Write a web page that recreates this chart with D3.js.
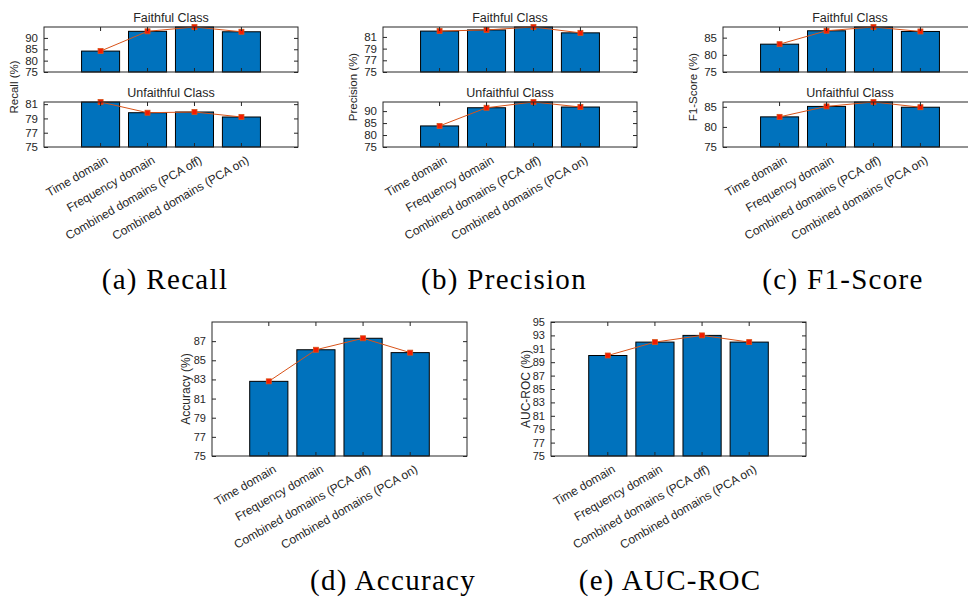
<!DOCTYPE html>
<html>
<head>
<meta charset="utf-8">
<script src="https://cdn.jsdelivr.net/npm/d3@7"></script>
<style>
  html, body { margin: 0; padding: 0; background: #fff; }
  svg { display: block; }
  .tick text { font-family: "Liberation Sans", Arial, sans-serif; fill: #262626; }
  .tick line { stroke: #262626; }
</style>
</head>
<body>
<svg id="fig" width="968" height="599"></svg>
<script>
// Feature-set comparison: per-class recall / precision / F1, overall accuracy and AUC-ROC.
const categories = ["Time domain", "Frequency domain", "Combined domains (PCA off)", "Combined domains (PCA on)"];

const recallFaithful = [84.2, 92.9, 94.8, 92.7];
const recallUnfaithful = [81.3, 79.8, 79.9, 79.2];
const precisionFaithful = [82.0, 82.2, 82.7, 81.7];
const precisionUnfaithful = [83.8, 91.4, 93.8, 91.7];
const f1Faithful = [83.1, 87.0, 88.1, 86.8];
const f1Unfaithful = [82.5, 85.1, 86.2, 84.9];
const accuracy = [82.8, 86.1, 87.3, 85.8];
const aucRoc = [90, 92, 93, 92];

const recallFaithfulTicks = [75, 80, 85, 90];
const recallUnfaithfulTicks = [75, 77, 79, 81];
const precisionFaithfulTicks = [75, 77, 79, 81];
const precisionUnfaithfulTicks = [75, 80, 85, 90];
const f1FaithfulTicks = [75, 80, 85];
const f1UnfaithfulTicks = [75, 80, 85];
const accuracyTicks = [75, 77, 79, 81, 83, 85, 87];
const aucRocTicks = [75, 77, 79, 81, 83, 85, 87, 89, 91, 93, 95];

const accuracyLimits = [75, 89];
const aucRocLimits = [75, 95];

const classTitles = ["Faithful Class", "Unfaithful Class"];
const captions = ["(a) Recall", "(b) Precision", "(c) F1-Score", "(d) Accuracy", "(e) AUC-ROC"];
const yLabels = ["Recall (%)", "Precision (%)", "F1-Score (%)", "Accuracy (%)", "AUC-ROC (%)"];

const svg = d3.select("#fig");
const SANS = "'Liberation Sans', Arial, sans-serif";
const SERIF = "'Liberation Serif', 'Times New Roman', serif";
const INK = "#262626";
const BAR = "#0072BD";
const LINE = "#D95319";

function drawPanel(opt) {
  const { x0, y0, w, h, values, ticks, domain, title, xLabels, tickFont } = opt;
  const g = svg.append("g");

  const x = d3.scaleBand().domain(categories).range([x0, x0 + w])
    .paddingInner(0.19).paddingOuter(0.8);
  const y = d3.scaleLinear().domain(domain).range([y0 + h, y0]);

  // bars
  g.selectAll("rect.bar").data(values).join("rect")
    .attr("class", "bar")
    .attr("x", (d, i) => x(categories[i]))
    .attr("width", x.bandwidth())
    .attr("y", d => y(d))
    .attr("height", d => y(domain[0]) - y(d))
    .attr("fill", BAR)
    .attr("stroke", "#000")
    .attr("stroke-width", 1);

  // trend line through bar tops
  const cx = (d, i) => x(categories[i]) + x.bandwidth() / 2;
  g.append("path")
    .datum(values)
    .attr("fill", "none")
    .attr("stroke", LINE)
    .attr("stroke-width", 1)
    .attr("d", d3.line().x(cx).y(d => y(d)));

  g.selectAll("rect.mk").data(values).join("rect")
    .attr("class", "mk")
    .attr("x", (d, i) => cx(d, i) - 2.5)
    .attr("y", d => y(d) - 2.5)
    .attr("width", 5).attr("height", 5)
    .attr("fill", "#F51B00")
    .attr("stroke", LINE)
    .attr("stroke-width", 0.8);

  // axes with inward ticks on all four sides
  const fmt = d3.format("d");
  const left = g.append("g").attr("transform", `translate(${x0},0)`)
    .call(d3.axisLeft(y).tickValues(ticks).tickFormat(fmt)
      .tickSizeInner(-4).tickSizeOuter(0).tickPadding(6));
  left.selectAll(".tick text").style("font-size", tickFont + "px");
  g.append("g").attr("transform", `translate(${x0 + w},0)`)
    .call(d3.axisRight(y).tickValues(ticks).tickSizeInner(-4).tickSizeOuter(0).tickFormat(""));
  g.append("g").attr("transform", `translate(0,${y0})`)
    .call(d3.axisTop(x).tickSizeInner(-4).tickSizeOuter(0).tickFormat(""));
  const bottom = g.append("g").attr("transform", `translate(0,${y0 + h})`)
    .call(d3.axisBottom(x).tickSizeInner(-4).tickSizeOuter(0).tickFormat(""));
  g.selectAll(".domain").remove();

  if (xLabels) {
    bottom.selectAll(".tick").append("text")
      .attr("transform", "translate(4,8) rotate(-30)")
      .attr("text-anchor", "end")
      .attr("dy", "0.72em")
      .style("font-size", "12px")
      .style("font-family", SANS)
      .attr("fill", INK)
      .text(d => d);
  }

  g.append("rect")
    .attr("x", x0).attr("y", y0).attr("width", w).attr("height", h)
    .attr("fill", "none").attr("stroke", INK).attr("stroke-width", 1);

  if (title) {
    g.append("text")
      .attr("x", x0 + w / 2).attr("y", y0 - 5.5)
      .attr("text-anchor", "middle")
      .style("font-family", SANS).style("font-size", "12.5px")
      .attr("fill", INK)
      .text(title);
  }
}

function yLabel(text, cx, cy, size) {
  svg.append("text")
    .attr("transform", `translate(${cx},${cy}) rotate(-90)`)
    .attr("text-anchor", "middle")
    .attr("dy", "0.35em")
    .style("font-family", SANS).style("font-size", size + "px")
    .attr("fill", INK)
    .text(text);
}

function caption(text, cx, base) {
  svg.append("text")
    .attr("x", cx).attr("y", base)
    .attr("text-anchor", "middle")
    .style("font-family", SERIF).style("font-size", "29px")
    .style("letter-spacing", "1.3px")
    .attr("fill", "#000")
    .text(text);
}

// top row: two stacked class panels per metric
const topRow = [
  { left: 44, data: [recallFaithful, recallUnfaithful], ticks: [recallFaithfulTicks, recallUnfaithfulTicks] },
  { left: 383, data: [precisionFaithful, precisionUnfaithful], ticks: [precisionFaithfulTicks, precisionUnfaithfulTicks] },
  { left: 723, data: [f1Faithful, f1Unfaithful], ticks: [f1FaithfulTicks, f1UnfaithfulTicks] }
];
const PW = 254;
const captionX = [165, 504, 843];
topRow.forEach((p, k) => {
  [27, 102].forEach((top, j) => {
    drawPanel({
      x0: p.left, y0: top, w: PW, h: 45,
      values: p.data[j], ticks: p.ticks[j],
      domain: [75, d3.max(p.data[j])],
      title: classTitles[j], xLabels: j === 1, tickFont: 11.5
    });
  });
  yLabel(yLabels[k], p.left - 30, 87, 11.5);
  caption(captions[k], captionX[k], 289);
});

// bottom row: single-panel metrics
drawPanel({ x0: 212, y0: 322, w: 255, h: 134, values: accuracy, ticks: accuracyTicks,
  domain: accuracyLimits, title: null, xLabels: true, tickFont: 11 });
yLabel(yLabels[3], 186, 389, 12);
caption(captions[3], 393, 590);

drawPanel({ x0: 551, y0: 322, w: 255, h: 134, values: aucRoc, ticks: aucRocTicks,
  domain: aucRocLimits, title: null, xLabels: true, tickFont: 11 });
yLabel(yLabels[4], 526, 389, 12);
caption(captions[4], 670, 590);
</script>
</body>
</html>
